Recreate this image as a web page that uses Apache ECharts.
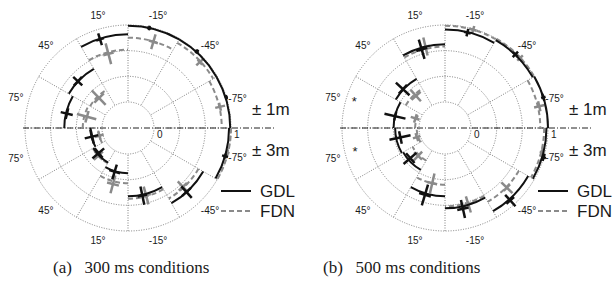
<!DOCTYPE html>
<html><head><meta charset="utf-8">
<script src="https://cdn.jsdelivr.net/npm/echarts@6/dist/echarts.min.js"></script>
<style>html,body{margin:0;padding:0;background:#fff}#c{width:616px;height:297px}</style>
</head><body><div id="c"></div>
<script>
// ---- categories / labels ----
const sectorAzimuths = [75, 45, 15, -15, -45, -75];
const distanceLabels = ['\u00b1 1m', '\u00b1 3m'];
const angleTickLabels = ['75°', '45°', '15°', '-15°', '-45°', '-75°'];
const radiusTickValues = [0, 1];
const radiusTickLabels = ['0', '1'];
const seriesNames = ['GDL', 'FDN'];
const captions = ['(a)\u00a0\u00a0\u00a0300 ms conditions', '(b)\u00a0\u00a0\u00a0500 ms conditions'];

// ---- 300 ms (first 6: ±1m, last 6: ±3m, in sectorAzimuths order) ----
const gdl300Arc    = [0.49, 0.55, 0.88, 0.99, 0.99, 0.99,   0.15, 0.18, 0.25, 0.55, 0.79, 0.975];
const gdl300MarkAz = [76.7, 47, 17.5, -12, -42, -72.6,      76.5, 49.5, 17, -12, -42.4, -73.8];
const gdl300MarkV  = [0.48, 0.555, 0.87, 0.99, 1.0, 1.0,    0.15, 0.17, 0.26, 0.56, 0.79, 0.975];
const gdl300ErrR   = [0.08, 0.08, 0.08, 0.03, 0.03, 0.02,   0.09, 0.1, 0.1, 0.12, 0.1, 0.04];
const gdl300ErrAz  = [5, 5, 2.5, 1.2, 1.2, 1.2,             11, 9, 7, 4, 4, 1.5];

const fdn300Arc    = [0.25, 0.23, 0.68, 0.835, 0.94, 0.88,  0.05, 0.19, 0.38, 0.58, 0.72, 1.0];
const fdn300MarkAz = [74.7, 44, 14.8, -16.4, -47.5, -77,    75, 47, 15, -15, -43, -76];
const fdn300MarkV  = [0.22, 0.21, 0.66, 0.83, 0.93, 0.89,   0.05, 0.19, 0.42, 0.57, 0.71, 0.99];
const fdn300ErrR   = [0.13, 0.13, 0.14, 0.1, 0.065, 0.065,  0.06, 0.08, 0.12, 0.12, 0.1, 0.03];
const fdn300ErrAz  = [8, 9, 4, 3, 2, 2.5,                   8, 8, 6, 4, 4, 2];

// ---- 500 ms ----
const gdl500Arc    = [0.33, 0.40, 0.75, 0.94, 0.98, 1.0,    0.31, 0.29, 0.55, 0.705, 0.91, 0.98];
const gdl500MarkAz = [76.7, 47.3, 16.5, -13.2, -43.7, -72.7, 78, 49, 16.7, -12.5, -42, -73.4];
const gdl500MarkV  = [0.33, 0.41, 0.73, 0.935, 0.985, 1.0,  0.26, 0.265, 0.57, 0.74, 0.93, 1.0];
const gdl500ErrR   = [0.14, 0.12, 0.13, 0.05, 0.05, 0.03,   0.14, 0.11, 0.14, 0.12, 0.1, 0.03];
const gdl500ErrAz  = [5, 6, 4, 2, 2, 2,                     8, 8, 5, 4, 3, 2];

const fdn500Arc    = [0.05, 0.25, 0.72, 0.99, 1.0, 0.9,     0.03, 0.15, 0.40, 0.68, 0.77, 0.95];
const fdn500MarkAz = [72, 42, 13.5, -16, -47, -77,          72, 44, 13, -17, -46, -76];
const fdn500MarkV  = [0.07, 0.23, 0.75, 0.99, 0.995, 0.92,  0.05, 0.17, 0.40, 0.70, 0.78, 0.96];
const fdn500ErrR   = [0.06, 0.1, 0.12, 0.05, 0.05, 0.07,    0.05, 0.08, 0.13, 0.11, 0.1, 0.03];
const fdn500ErrAz  = [8, 8, 3, 2, 2, 3,                     8, 8, 5, 4, 3, 2];

// significance markers (panel b)
const starAz   = [72, 77];
const starDist = [0, 1];
const starV    = [0.9, 0.86];

// ---- layout / style ----
const centers = [[128, 128], [445, 128]];
const captionX = [53, 323];
const BLACK = '#111', GRAY = '#8a8a8a', TEXT = '#1a1a1a';
const SANS = 'Liberation Sans';
const SERIF = 'Liberation Serif';

// azimuth -> polar angle (degrees ccw from +x); upper half = ±1m, lower half = ±3m
function thetaOf(dist, az) { return dist === 0 ? 90 + az : 270 - az; }

const panels = [
  { GDL: [gdl300Arc, gdl300MarkAz, gdl300MarkV, gdl300ErrR, gdl300ErrAz],
    FDN: [fdn300Arc, fdn300MarkAz, fdn300MarkV, fdn300ErrR, fdn300ErrAz] },
  { GDL: [gdl500Arc, gdl500MarkAz, gdl500MarkV, gdl500ErrR, gdl500ErrAz],
    FDN: [fdn500Arc, fdn500MarkAz, fdn500MarkV, fdn500ErrR, fdn500ErrAz] }
];

function buildData(arr) {
  const [arc, mAz, mV, eR, eA] = arr;
  return arc.map((v, i) => {
    const dist = i < 6 ? 0 : 1;
    const az = sectorAzimuths[i % 6];
    return [v, thetaOf(dist, az), mV[i], thetaOf(dist, mAz[i]), eR[i], eA[i]];
  });
}

function makeRender(color, dashed) {
  return function (params, api) {
    const cs = params.coordSys;
    const cx = cs.cx, cy = cs.cy;
    const v = api.value(0), th = api.value(1), mv = api.value(2), mth = api.value(3),
          er = api.value(4), ea = api.value(5);
    const p1 = api.coord([v, th - 15]), p2 = api.coord([v, th + 15]);
    const r = Math.hypot(p1[0] - cx, p1[1] - cy);
    const a1 = Math.atan2(p1[1] - cy, p1[0] - cx), a2 = Math.atan2(p2[1] - cy, p2[0] - cx);
    let d = a2 - a1;
    while (d > Math.PI) d -= 2 * Math.PI;
    while (d < -Math.PI) d += 2 * Math.PI;
    const s = d > 0 ? a1 : a1 + d;
    const q1 = api.coord([mv - er, mth]), q2 = api.coord([mv + er, mth]);
    const t1 = api.coord([mv, mth - ea]), t2 = api.coord([mv, mth + ea]);
    return {
      type: 'group',
      children: [
        { type: 'arc', shape: { cx, cy, r, startAngle: s, endAngle: s + Math.abs(d), clockwise: true },
          style: { stroke: color, fill: 'none', lineWidth: 2, lineDash: dashed ? [5, 3] : null } },
        { type: 'line', shape: { x1: q1[0], y1: q1[1], x2: q2[0], y2: q2[1] },
          style: { stroke: color, lineWidth: 2.5 } },
        { type: 'line', shape: { x1: t1[0], y1: t1[1], x2: t2[0], y2: t2[1] },
          style: { stroke: color, lineWidth: 2.5 } }
      ]
    };
  };
}

function txtStyle(text, size, family, align, valign) {
  return { text, fontSize: size, fontFamily: family, fill: TEXT,
    textAlign: align, align: align, textVerticalAlign: valign, verticalAlign: valign };
}

function angleLabelRender(params, api) {
  const idx = api.value(2), dist = api.value(3);
  const p = api.coord([api.value(0), api.value(1)]);
  const right = sectorAzimuths[idx] === -75;
  return { type: 'text', x: right ? p[0] + 2 : p[0], y: right ? p[1] + (dist === 0 ? -3 : 3) : p[1],
    style: txtStyle(angleTickLabels[idx], 10, SANS, right ? 'left' : 'center', 'middle') };
}
function radiusLabelRender(params, api) {
  const p = api.coord([api.value(0), 0]);
  return { type: 'text', x: p[0] + 3, y: p[1] + 1,
    style: txtStyle(radiusTickLabels[api.value(1)], 10, SANS, 'left', 'top') };
}
function starRender(params, api) {
  const p = api.coord([api.value(0), api.value(1)]);
  return { type: 'text', x: p[0], y: p[1] + 3, style: txtStyle('*', 13, SANS, 'center', 'middle') };
}

const gridLine = { show: true, lineStyle: { color: '#707070', width: 0.9, type: [1, 1.5] } };
const polar = [], radiusAxis = [], angleAxis = [], series = [], elements = [];

centers.forEach((c, p) => {
  polar.push({ center: c, radius: [26, 103] });
  radiusAxis.push({ polarIndex: p, type: 'value', min: 0, max: 1, interval: 1 / 3,
    axisLine: { show: false }, axisTick: { show: false }, axisLabel: { show: false }, splitLine: gridLine });
  angleAxis.push({ polarIndex: p, type: 'value', min: 0, max: 360, interval: 30, startAngle: 0, clockwise: false,
    axisLine: { show: false }, axisTick: { show: false }, axisLabel: { show: false }, splitLine: gridLine });

  ['FDN', 'GDL'].forEach(name => {
    const col = name === 'GDL' ? BLACK : GRAY;
    series.push({ type: 'custom', name, coordinateSystem: 'polar', polarIndex: p, silent: true,
      z: name === 'GDL' ? 4 : 3, itemStyle: { color: col },
      renderItem: makeRender(col, name === 'FDN'),
      data: buildData(panels[p][name]) });
  });

  const lab = [];
  [0, 1].forEach(dist => sectorAzimuths.forEach((az, i) => {
    lab.push([az === -75 ? 0.985 : 1.17, thetaOf(dist, az), i, dist]);
  }));
  const common = { type: 'custom', coordinateSystem: 'polar', polarIndex: p, silent: true, z: 5,
    itemStyle: { color: TEXT } };
  series.push(Object.assign({}, common, { renderItem: angleLabelRender, data: lab }));
  series.push(Object.assign({}, common, { renderItem: radiusLabelRender,
    data: radiusTickValues.map((v, i) => [v, i]) }));
  if (p === 1) {
    series.push(Object.assign({}, common, { renderItem: starRender,
      data: starAz.map((az, i) => [starV[i], thetaOf(starDist[i], az)]) }));
  }

  const cx = c[0], cy = c[1];
  elements.push({ type: 'line', z: 1, shape: { x1: cx - 105, y1: cy, x2: cx + 146, y2: cy },
    style: { stroke: '#222', lineWidth: 1, lineDash: [6, 2, 1, 2] } });
  distanceLabels.forEach((t, i) => elements.push({ type: 'text', x: cx + 124, y: cy + (i === 0 ? -19 : 22),
    style: txtStyle(t, 17, SANS, 'left', 'middle') }));
  seriesNames.forEach((n, i) => {
    const y = cy + (i === 0 ? 63 : 83);
    elements.push({ type: 'line', shape: { x1: cx + 93, y1: y, x2: cx + 123, y2: y },
      style: { stroke: n === 'GDL' ? BLACK : GRAY, lineWidth: 2, lineDash: n === 'FDN' ? [5, 3] : null } });
    elements.push({ type: 'text', x: cx + 132, y, style: txtStyle(n, 17, SANS, 'left', 'middle') });
  });
  elements.push({ type: 'text', x: captionX[p], y: 267, style: txtStyle(captions[p], 17, SERIF, 'left', 'middle') });
});

const chart = echarts.init(document.getElementById('c'), null, { renderer: 'svg', width: 616, height: 297 });
chart.setOption({
  animation: false,
  backgroundColor: '#fff',
  polar, radiusAxis, angleAxis, series,
  graphic: { elements }
});
</script></body></html>
